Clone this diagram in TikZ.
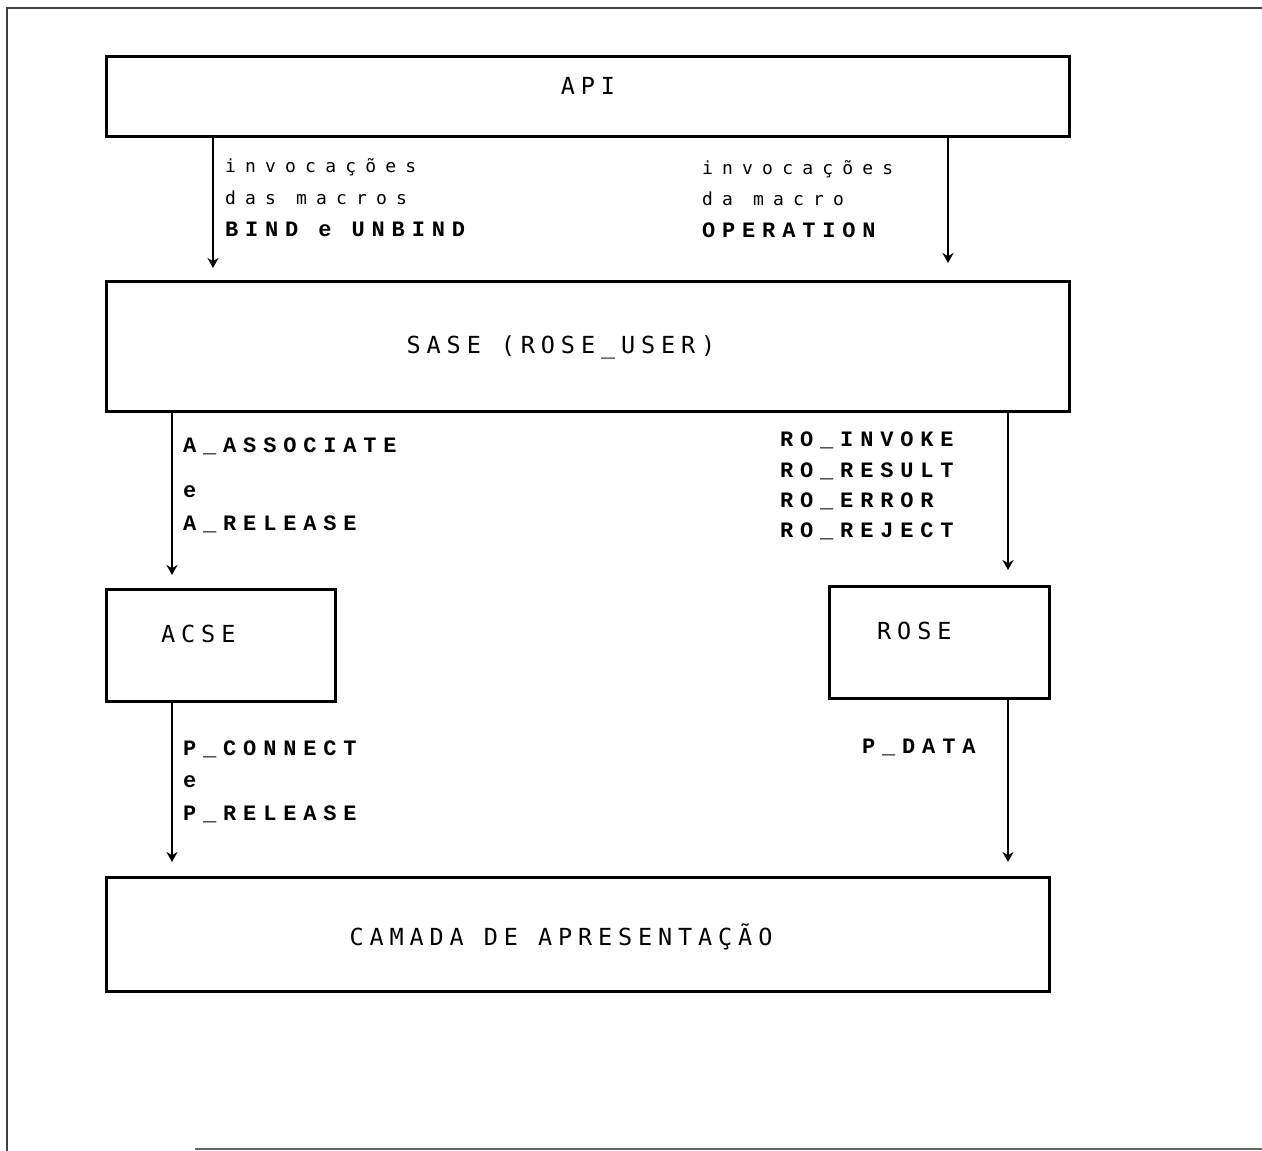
\documentclass[tikz,border=0pt]{standalone}
\usepackage{fontspec}
\usetikzlibrary{arrows.meta}
\newfontfamily\boxfont[LetterSpace=25]{DejaVu Sans Mono}
\newfontfamily\lowfont[LetterSpace=51]{DejaVu Sans Mono}
\newfontfamily\capfont[LetterSpace=31]{Liberation Mono}
\tikzset{
  box/.style={draw=black, line width=2.6pt, rectangle, anchor=north west, inner sep=0pt},
  boxlabel/.style={inner sep=0pt, font=\boxfont\fontsize{23.5}{28}\selectfont},
  lowlabel/.style={inner sep=0pt, anchor=base west, font=\lowfont\fontsize{18}{22}\selectfont},
  caplabel/.style={inner sep=0pt, anchor=base west, font=\capfont\bfseries\fontsize{22}{26}\selectfont},
  arr/.style={draw=black, line width=2pt, -{Stealth[length=10pt,width=11pt]}},
  frame/.style={draw=black!75, line width=1.8pt}
}
\begin{document}
\begin{tikzpicture}[x=1pt,y=-1pt]
\useasboundingbox (0,0) rectangle (1262,1151);
% outer frame
\coordinate (fbl) at (7,1151);
\coordinate (ftl) at (7,8);
\coordinate (ftr) at (1262,8);
\coordinate (fbs) at (195,1149);
\coordinate (fbe) at (1262,1149);
\draw[frame] (fbl) -- (ftl) -- (ftr);
\draw[draw=black!60, line width=1.6pt] (fbs) -- (fbe);

% boxes
\node[box, minimum width=963pt, minimum height=80pt] (api) at (105,55) {};
\node[box, minimum width=963pt, minimum height=130pt] (sase) at (105,280) {};
\node[box, minimum width=229pt, minimum height=112pt] (acse) at (105,588) {};
\node[box, minimum width=220pt, minimum height=112pt] (rose) at (828,585) {};
\node[box, minimum width=943pt, minimum height=114pt] (cam) at (105,876) {};

% box labels
\node[boxlabel, anchor=base] (tapi) at (588,94) {API};
\node[boxlabel, anchor=base] (tsase) at (561,353) {SASE (ROSE\_USER)};
\node[boxlabel, anchor=base west] (tacse) at (161,642) {ACSE};
\node[boxlabel, anchor=base west] (trose) at (877,639) {ROSE};
\node[boxlabel, anchor=base] (tcam) at (561,945) {CAMADA DE APRESENTAÇÃO};

% x positions of connectors
\coordinate (xa) at (213,0);
\coordinate (xb) at (948,0);
\coordinate (xc) at (172,0);
\coordinate (xd) at (1008,0);

% connectors
\draw[arr, shorten >=12pt] (api.south -| xa) -- (sase.north -| xa);
\draw[arr, shorten >=17pt] (api.south -| xb) -- (sase.north -| xb);
\draw[arr, shorten >=13pt] (sase.south -| xc) -- (acse.north -| xc);
\draw[arr, shorten >=15pt] (sase.south -| xd) -- (rose.north -| xd);
\draw[arr, shorten >=14pt] (acse.south -| xc) -- (cam.north -| xc);
\draw[arr, shorten >=14pt] (rose.south -| xd) -- (cam.north -| xd);

% connector labels
\node[lowlabel] (l1a) at (225,172) {invocações};
\node[lowlabel] (l1b) at (225,204) {das macros};
\node[caplabel] (l1c) at (225,236) {BIND e UNBIND};

\node[lowlabel] (l2a) at (702,174) {invocações};
\node[lowlabel] (l2b) at (702,205) {da macro};
\node[caplabel] (l2c) at (702,237) {OPERATION};

\node[caplabel] (l3a) at (183,452) {A\_ASSOCIATE};
\node[caplabel] (l3b) at (183,497) {e};
\node[caplabel] (l3c) at (183,530) {A\_RELEASE};

\node[caplabel] (l4a) at (780,446) {RO\_INVOKE};
\node[caplabel] (l4b) at (780,477) {RO\_RESULT};
\node[caplabel] (l4c) at (780,507) {RO\_ERROR};
\node[caplabel] (l4d) at (780,537) {RO\_REJECT};

\node[caplabel] (l5a) at (183,755) {P\_CONNECT};
\node[caplabel] (l5b) at (183,787) {e};
\node[caplabel] (l5c) at (183,820) {P\_RELEASE};

\node[caplabel] (l6a) at (862,753) {P\_DATA};
\end{tikzpicture}
\end{document}
